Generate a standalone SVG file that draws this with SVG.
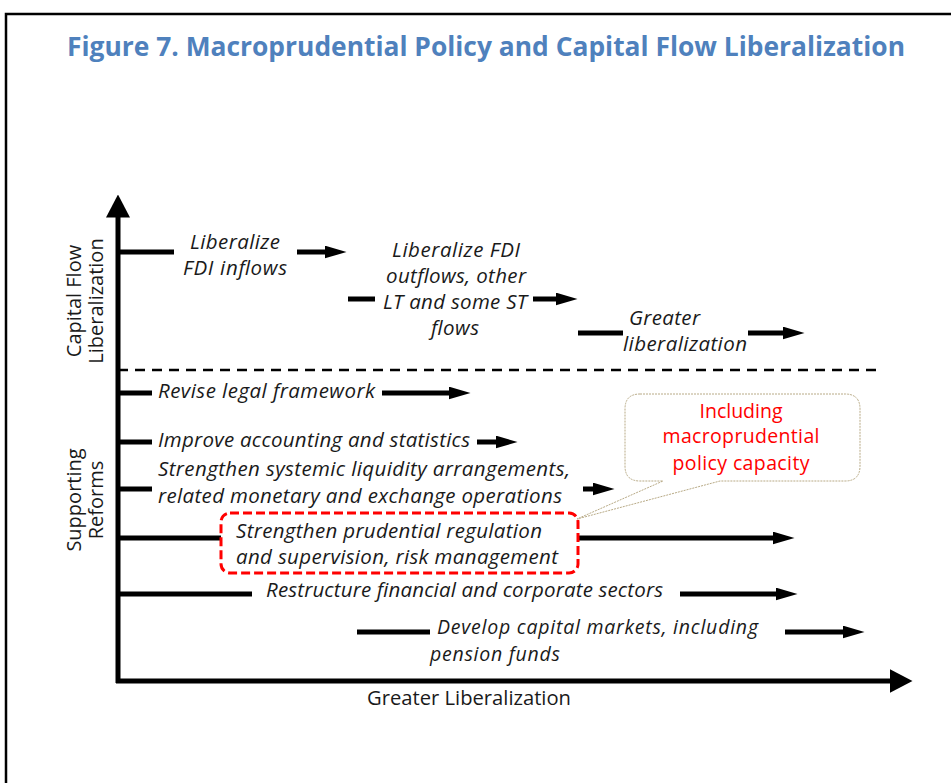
<svg xmlns="http://www.w3.org/2000/svg" width="951" height="783" viewBox="0 0 951 783">
<defs>
<style>
.t{font-family:"Open Sans","Noto Sans","DejaVu Sans",sans-serif;font-size:20.5px;font-style:italic;fill:#1a1a1a}
.t2{font-size:19.5px}
.r{font-family:"Open Sans","Noto Sans","DejaVu Sans",sans-serif;font-size:20px;fill:#1a1a1a}
.red{font-family:"Open Sans","Noto Sans","DejaVu Sans",sans-serif;font-size:19.5px;fill:#ff0000}
.ttl{font-family:"Open Sans","Noto Sans","DejaVu Sans",sans-serif;font-size:26px;font-weight:700;fill:#4F81BD}
.ln{stroke:#000;stroke-width:5;fill:none}
.ar{marker-end:url(#ah)}
.ax{stroke:#000;stroke-width:5;fill:none;marker-end:url(#axh)}
</style>
<marker id="ah" markerUnits="userSpaceOnUse" viewBox="0 0 22 13" markerWidth="22" markerHeight="13" refX="0.5" refY="6.5" orient="auto">
<path d="M0,0 L22,6.5 L0,13 Z" fill="#000"/>
</marker>
<marker id="axh" markerUnits="userSpaceOnUse" viewBox="0 0 23 24" markerWidth="23" markerHeight="24" refX="0.5" refY="12" orient="auto">
<path d="M0,0 L23,12 L0,24 Z" fill="#000"/>
</marker>
</defs>
<rect x="0" y="0" width="951" height="783" fill="#fff"/>
<rect x="6" y="14" width="970" height="800" fill="none" stroke="#000" stroke-width="2.5"/>
<g id="title"><text class="ttl" x="486" y="56" text-anchor="middle" textLength="838" lengthAdjust="spacingAndGlyphs">Figure 7. Macroprudential Policy and Capital Flow Liberalization</text></g>

<g id="connectors">
<path class="ax" d="M118,683 V217"/>
<path class="ax" d="M116,681 H890"/>
<line x1="118" y1="370" x2="877" y2="370" stroke="#000" stroke-width="2.5" stroke-dasharray="10 7"/>
<line class="ln" x1="118" y1="252" x2="174" y2="252"/>
<line class="ln ar" x1="297" y1="252" x2="325" y2="252"/>
<line class="ln" x1="348" y1="299" x2="375" y2="299"/>
<line class="ln ar" x1="533" y1="299" x2="556" y2="299"/>
<line class="ln" x1="578" y1="333" x2="623" y2="333"/>
<line class="ln ar" x1="748" y1="333" x2="783" y2="333"/>
<line class="ln" x1="118" y1="393" x2="152" y2="393"/>
<line class="ln ar" x1="382" y1="393" x2="449" y2="393"/>
<line class="ln" x1="118" y1="442" x2="152" y2="442"/>
<line class="ln ar" x1="477" y1="442" x2="496" y2="442"/>
<line class="ln" x1="118" y1="489" x2="152" y2="489"/>
<line class="ln ar" x1="583" y1="489" x2="593" y2="489"/>
<line class="ln" x1="118" y1="538" x2="221" y2="538"/>
<line class="ln ar" x1="579" y1="538" x2="773" y2="538"/>
<line class="ln" x1="118" y1="594" x2="252" y2="594"/>
<line class="ln ar" x1="680" y1="594" x2="776" y2="594"/>
<line class="ln" x1="357" y1="632" x2="430" y2="632"/>
<line class="ln ar" x1="785" y1="632" x2="843" y2="632"/>
</g>

<g id="axis-y-label"><text class="r" transform="translate(81,301) rotate(-90)" text-anchor="middle"><tspan x="0" y="0">Capital Flow</tspan><tspan x="0" y="22">Liberalization</tspan></text></g>
<g id="axis-y-label-2"><text class="r" transform="translate(81,500) rotate(-90)" text-anchor="middle"><tspan x="0" y="0">Supporting</tspan><tspan x="0" y="22">Reforms</tspan></text></g>
<g id="axis-x-label"><text class="r" x="469" y="705" text-anchor="middle" textLength="204" lengthAdjust="spacingAndGlyphs">Greater Liberalization</text></g>

<g id="fdi-inflows"><text class="t" x="190" y="249" textLength="90">Liberalize</text><text class="t" x="183" y="275" textLength="104">FDI inflows</text></g>
<g id="fdi-outflows"><text class="t" x="392" y="257" textLength="128">Liberalize FDI</text><text class="t" x="386" y="283" textLength="140">outflows, other</text><text class="t" x="383" y="309" textLength="144">LT and some ST</text><text class="t" x="431" y="335" textLength="48">flows</text></g>
<g id="greater-lib"><text class="t" x="629" y="325" textLength="71">Greater</text><text class="t" x="623" y="351" textLength="124">liberalization</text></g>

<g id="legal"><text class="t" x="158" y="398" textLength="217">Revise legal framework</text></g>
<g id="accounting"><text class="t" x="158" y="447" textLength="312">Improve accounting and statistics</text></g>
<g id="liquidity"><text class="t" x="158" y="476" textLength="412">Strengthen systemic liquidity arrangements,</text><text class="t" x="158" y="503" textLength="404">related monetary and exchange operations</text></g>
<g id="prudential">
<rect x="221" y="513" width="357" height="60" rx="9" fill="#fff" stroke="#ff0000" stroke-width="3" stroke-dasharray="9 4"/>
<text class="t" x="236" y="538" textLength="306">Strengthen prudential regulation</text>
<text class="t" x="236" y="564" textLength="322">and supervision, risk management</text>
</g>
<g id="restructure"><text class="t" x="266" y="597" textLength="397">Restructure financial and corporate sectors</text></g>
<g id="capital-markets"><text class="t t2" x="437" y="634" textLength="321">Develop capital markets, including</text><text class="t t2" x="430" y="661" textLength="130">pension funds</text></g>

<g id="callout">
<path d="M640,394 H845 Q860,394 860,409 V466 Q860,481 845,481 H720 L577,519 L663,481 H640 Q625,481 625,466 V409 Q625,394 640,394 Z" fill="#fff" stroke="#b8aa86" stroke-width="1" stroke-dasharray="2 1"/>
<text class="red" text-anchor="middle"><tspan x="741" y="418">Including</tspan><tspan x="741" y="443" textLength="157">macroprudential</tspan><tspan x="741" y="470" textLength="137">policy capacity</tspan></text>
</g>
</svg>
